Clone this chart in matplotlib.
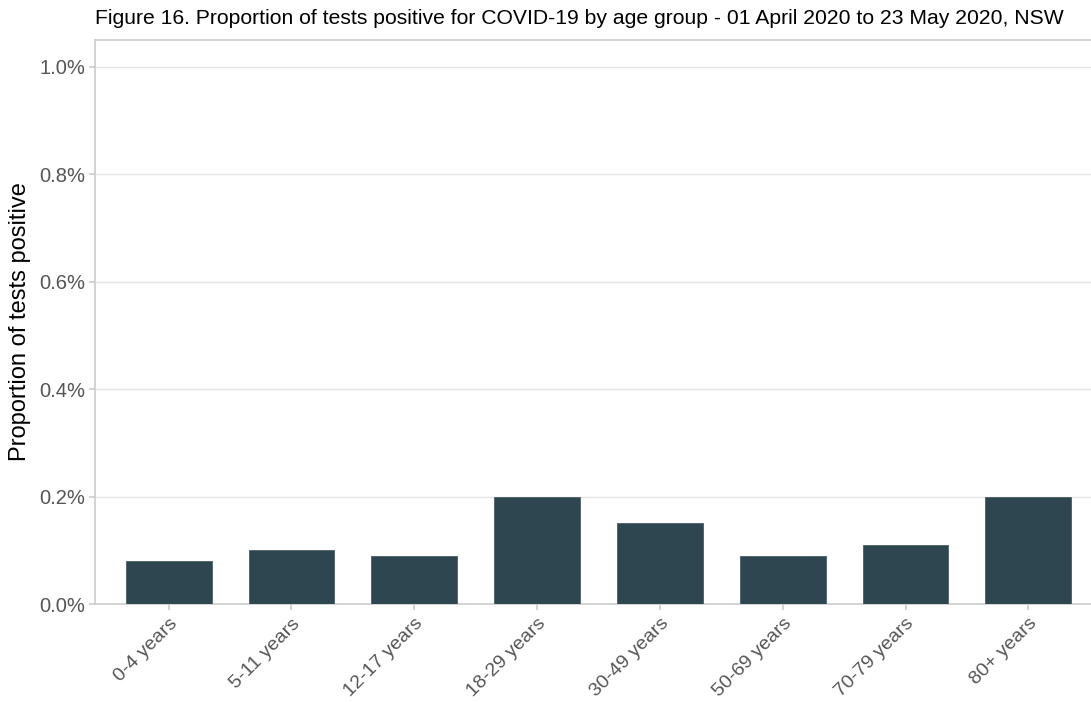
import matplotlib
matplotlib.use('Agg')
import numpy as np
from matplotlib import pyplot as plt
from matplotlib.ticker import FuncFormatter

plt.rcParams['font.family'] = ['Liberation Sans', 'DejaVu Sans']

# veriler
age_groups = ['0-4 years', '5-11 years', '12-17 years', '18-29 years',
              '30-49 years', '50-69 years', '70-79 years', '80+ years']
pct_positive = [0.08, 0.10, 0.09, 0.20, 0.15, 0.09, 0.11, 0.20]
y_ticks = [0.0, 0.2, 0.4, 0.6, 0.8, 1.0]

fig = plt.figure(figsize=(10.91, 7.02), dpi=100)
ax = fig.add_axes([95/1091, 98/702, 1007/1091, 564/702])

x = np.arange(len(age_groups))
ax.bar(x, pct_positive, width=0.7, color='#2d4650', edgecolor='#4a5f67', linewidth=0.6, zorder=3)

ax.set_xlim(-0.6, len(age_groups) - 0.4)
ax.set_ylim(0, 1.05)
ax.set_yticks(y_ticks)
ax.yaxis.set_major_formatter(FuncFormatter(lambda v, p: f'{v:.1f}%'))
ax.set_xticks(x)
ax.set_xticklabels(age_groups, rotation=45, ha='right', rotation_mode='anchor')

ax.grid(axis='y', color='#e5e5e5', linewidth=1, zorder=0)
for s in ax.spines.values():
    s.set_color('#cccccc'); s.set_linewidth(1.2)
ax.tick_params(axis='both', colors='#cccccc', labelcolor='#555555', labelsize=14.5, length=4, width=1.2)
ax.tick_params(axis='x', pad=4, labelsize=14)
ax.tick_params(axis='y', pad=3)

ax.set_ylabel('Proportion of tests positive', fontsize=17, color='black', labelpad=6)
fig.text(95/1091, 1 - 18/702, 'Figure 16. Proportion of tests positive for COVID-19 by age group - 01 April 2020 to 23 May 2020, NSW',
         fontsize=15.2, ha='left', va='center', color='black')

fig.savefig('out.png', dpi=100)
